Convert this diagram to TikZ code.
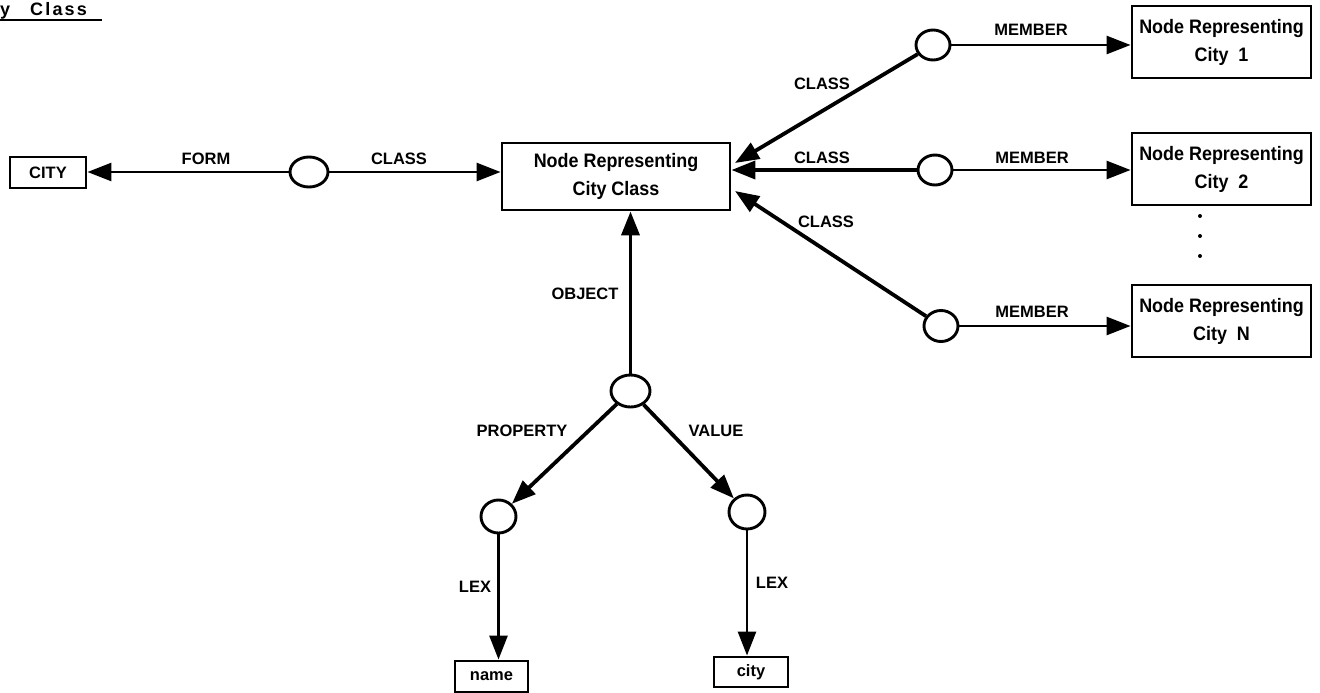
\documentclass[tikz,border=0pt]{standalone}
\usepackage{fontspec}
\setmainfont{Liberation Sans}
\newfontfamily\plotfont[FakeStretch=0.92]{Liberation Sans}
\usetikzlibrary{arrows.meta,shapes.geometric}
\begin{document}
\begin{tikzpicture}[x=1pt,y=-1pt,
  lbl/.style={font=\bfseries\fontsize{16.5}{18}\selectfont, inner sep=0pt},
  box/.style={draw, line width=2.9pt, rectangle, align=center, inner sep=0pt,
              font=\plotfont\bfseries\fontsize{19.5}{28}\selectfont},
  bigbox/.style={box, minimum width=179pt, minimum height=72pt},
  smallbox/.style={box, minimum width=74pt, minimum height=31pt,
              font=\bfseries\fontsize{16.5}{18}\selectfont},
  blob/.style={draw, ellipse, line width=2.9pt, minimum width=36pt,
              minimum height=31pt, inner sep=0pt},
  arr/.style={line width=2.7pt, -{Triangle[length=24pt,width=18pt]}},
  heavy/.style={arr, line width=3.8pt},
]
\useasboundingbox (0,0) rectangle (1320,693);

% heading
\node[anchor=base west, inner sep=0pt,
      font=\bfseries\fontsize{18}{20}\selectfont\addfontfeature{LetterSpace=12}]
  (title) at (0,16) {y\hspace{20pt}Class};
\draw[line width=2.8pt] (0,20) -- (102,20);

% central class node and the form link on the left
\node[box, minimum width=228pt, minimum height=67pt] (main) at (616,176.5)
  {Node Representing\\City Class};
\node[smallbox, minimum width=76pt] (cityw) at (48,172.5) {CITY};
\node[blob, minimum width=38pt, minimum height=30pt] (eform) at (309,172) {};
\draw[arr] (eform) -- (eform -| cityw.east);
\draw[arr] (eform) -- (eform -| main.west);
\node[lbl] (lform) at (206,159) {FORM};
\node[lbl] (lcls0) at (399,159) {CLASS};

% members of the class
\node[bigbox] (c1) at (1221.5,42) {Node Representing\\City\ \ 1};
\node[bigbox] (c2) at (1221.5,169) {Node Representing\\City\ \ 2};
\node[bigbox] (cn) at (1221.5,321) {Node Representing\\City\ \ N};
\node[blob, minimum width=34pt, minimum height=30pt] (e1) at (933,45) {};
\node[blob, minimum width=34pt, minimum height=30pt] (e2) at (935,170) {};
\node[blob, minimum width=34pt, minimum height=31pt] (e3) at (941,326) {};

\coordinate (t1) at (735,163);
\coordinate (t3) at (735,191);
\draw[heavy] (e1) -- (t1);
\draw[heavy] (e2) -- (e2 -| main.east);
\draw[heavy] (e3) -- (t3);
\draw[arr] (e1) -- (e1 -| c1.west);
\draw[arr] (e2) -- (e2 -| c2.west);
\draw[arr] (e3) -- (e3 -| cn.west);

\node[lbl] (lc1) at (822,84) {CLASS};
\node[lbl] (lc2) at (822,158) {CLASS};
\node[lbl] (lc3) at (826,222) {CLASS};
\node[lbl] (lm1) at (1031,30) {MEMBER};
\node[lbl] (lm2) at (1032,158) {MEMBER};
\node[lbl] (lm3) at (1032,312) {MEMBER};

% ellipsis between the member boxes
\foreach \yy/\nm in {216/d1,236/d2,256/d3}
  \fill (1200,\yy) circle (2pt) coordinate (\nm);

% the object link and its property/value pair
\node[blob, minimum width=39pt, minimum height=32pt] (eobj) at (630.5,391) {};
\draw[heavy] (eobj) -- (eobj |- main.south);
\node[lbl] (lobj) at (585,294) {OBJECT};

\node[blob, minimum width=35pt, minimum height=33pt] (eprop) at (498.5,516.5) {};
\node[blob, minimum width=36pt, minimum height=34pt] (eval) at (747,512) {};
\draw[heavy] (eobj) -- (eprop);
\draw[heavy] (eobj) -- (eval);
\node[lbl] (lprop) at (522,431) {PROPERTY};
\node[lbl] (lval) at (716,431) {VALUE};

\node[smallbox, minimum width=73pt] (name) at (491.5,676.5) {name};
\node[smallbox, minimum width=74pt, minimum height=30pt] (cityl) at (751,672) {city};
\draw[arr] (eprop) -- (eprop |- name.north);
\draw[arr] (eval) -- (eval |- cityl.north);
\node[lbl] (lex1) at (475,587) {LEX};
\node[lbl] (lex2) at (772,583) {LEX};
\end{tikzpicture}
\end{document}
